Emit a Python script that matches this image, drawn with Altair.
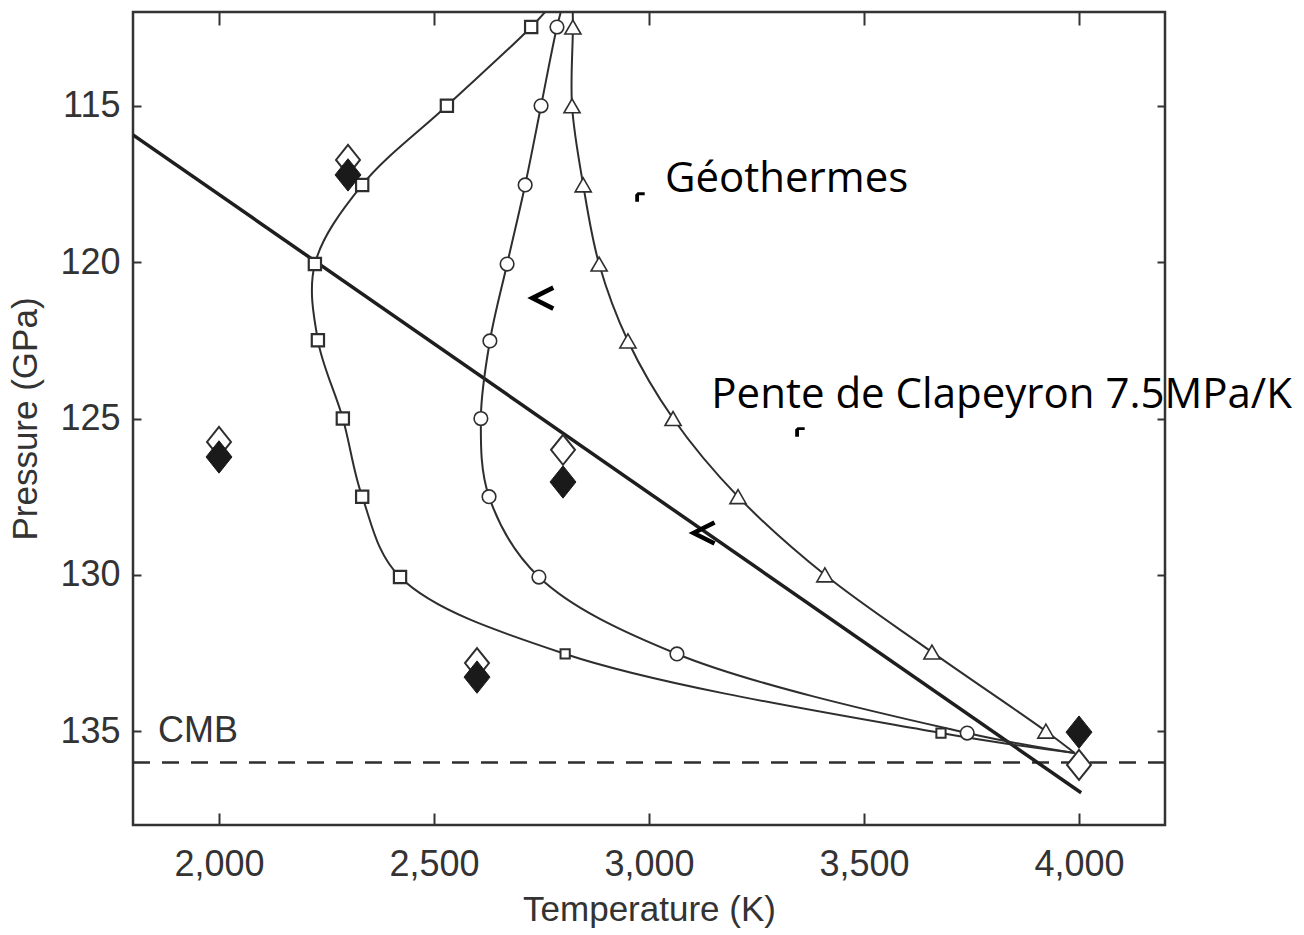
import altair as alt
import pandas as pd

# ---- data ----
# geotherm marked with squares (first point: where the curve leaves the frame, last: convergence)
sq_T = [2790, 2726, 2530, 2333, 2223, 2230, 2288, 2333, 2421, 2805, 3679, 3990]
sq_P = [111.5, 112.48, 115.0, 117.53, 120.06, 122.5, 125.0, 127.5, 130.07, 132.53, 135.06, 135.7]
# geotherm marked with circles
ci_T = [2805, 2786, 2749, 2712, 2670, 2630, 2609, 2628, 2744, 3065, 3740, 3990]
ci_P = [111.5, 112.48, 115.0, 117.53, 120.06, 122.52, 125.0, 127.5, 130.07, 132.53, 135.06, 135.7]
# geotherm marked with triangles
tr_T = [2822, 2823, 2821, 2847, 2884, 2951, 3056, 3207, 3409, 3658, 3923, 3990]
tr_P = [111.5, 112.48, 115.0, 117.53, 120.06, 122.52, 125.0, 127.5, 130.0, 132.47, 135.0, 135.7]

# diamonds (open and filled)
open_T = [2300, 2000, 2800, 2600, 4000]
open_P = [116.73, 125.75, 126.0, 132.82, 136.08]
fill_T = [2300, 2000, 2800, 2600, 4000]
fill_P = [117.21, 126.23, 127.03, 133.27, 135.03]

# Clapeyron slope line
clap_T = [1800, 4005]
clap_P = [115.93, 136.97]

# core-mantle boundary
cmb_P = [136.0]
cmb_label = ["CMB"]
cmb_label_T = [1858]
cmb_label_P = [135.0]

# annotations
ann_text = ["Géothermes", "Pente de Clapeyron 7.5MPa/K"]
ann_T = [3037, 3145]
ann_P = [117.76, 124.66]
chev_T = [2753, 3128]
chev_P = [121.15, 128.66]
frag_T = [2979, 3351]
frag_P = [117.92, 125.43]

x_ticks = [2000, 2500, 3000, 3500, 4000]
y_ticks = [115, 120, 125, 130, 135]

# ---- tables ----
rows = []
for name, T, P in [("sq", sq_T, sq_P), ("ci", ci_T, ci_P), ("tr", tr_T, tr_P)]:
    for i, (t, p) in enumerate(zip(T, P)):
        rows.append({"s": name, "i": i, "T": t, "P": p})
lines_df = pd.DataFrame(rows)

sq_big = pd.DataFrame({"T": sq_T[1:9], "P": sq_P[1:9]})
sq_small = pd.DataFrame({"T": sq_T[9:11], "P": sq_P[9:11]})
ci_df = pd.DataFrame({"T": ci_T[1:11], "P": ci_P[1:11]})
tr_df = pd.DataFrame({"T": tr_T[1:11], "P": tr_P[1:11]})
open_df = pd.DataFrame({"T": open_T, "P": open_P})
fill_df = pd.DataFrame({"T": fill_T, "P": fill_P})
clap_df = pd.DataFrame({"T": clap_T, "P": clap_P})
cmb_df = pd.DataFrame({"P": cmb_P})
cmb_lab_df = pd.DataFrame({"T": cmb_label_T, "P": cmb_label_P, "t": cmb_label})
ann_df = pd.DataFrame({"T": ann_T, "P": ann_P, "t": ann_text})
chev_df = pd.DataFrame({"T": chev_T, "P": chev_P})
frag_df = pd.DataFrame({"T": frag_T, "P": frag_P})

xs = alt.Scale(domain=[1800, 4200], nice=False, zero=False)
ys = alt.Scale(domain=[112, 138], reverse=True, nice=False, zero=False)

INK = "#2e2e2e"


def X(axis=None):
    return alt.X("T:Q", scale=xs, axis=axis)


def Y(axis=None):
    return alt.Y("P:Q", scale=ys, axis=axis)


x_bottom = alt.Axis(orient="bottom", values=x_ticks, format=",.0f", offset=-12, tickSize=12,
                    labelPadding=22, title="Temperature (K)", titlePadding=10)
y_left = alt.Axis(orient="left", values=y_ticks, format=".0f", offset=-8, tickSize=8,
                  labelPadding=13, title="Pressure (GPa)", titlePadding=16)
x_top = alt.Axis(orient="top", values=x_ticks, offset=-13, tickSize=13, labels=False, title=None)
y_right = alt.Axis(orient="right", values=y_ticks, offset=-8, tickSize=8, labels=False, title=None)

cmb = alt.Chart(cmb_df).mark_rule(color=INK, strokeWidth=2.5, strokeDash=[17, 12]).encode(
    y=Y()
)

clap = alt.Chart(clap_df).mark_line(color="#1e1e1e", strokeWidth=3.5, clip=True).encode(
    x=X(x_bottom), y=Y(y_left)
)

geo = alt.Chart(lines_df).mark_line(interpolate="catmull-rom", clip=True, color=INK,
                                    strokeWidth=2).encode(
    x=X(x_top), y=Y(y_right), detail="s:N", order="i:Q"
)

pt = dict(filled=True, fill="white", stroke=INK, opacity=1)
sqb = alt.Chart(sq_big).mark_point(shape="square", size=150, strokeWidth=2.2, **pt).encode(x=X(), y=Y())
sqs = alt.Chart(sq_small).mark_point(shape="square", size=85, strokeWidth=2, **pt).encode(x=X(), y=Y())
cir = alt.Chart(ci_df).mark_point(shape="circle", size=185, strokeWidth=1.6, **pt).encode(x=X(), y=Y())
tri = alt.Chart(tr_df).mark_point(shape="triangle-up", size=260, strokeWidth=1.6, **pt).encode(x=X(), y=Y())

DIAMOND = "M0,-1L0.8,0L0,1L-0.8,0Z"
dopen = alt.Chart(open_df).mark_point(shape=DIAMOND, size=900, strokeWidth=2, **pt).encode(x=X(), y=Y())
dfill = alt.Chart(fill_df).mark_point(shape=DIAMOND, size=1050, filled=True, fill="#1a1a1a",
                                      stroke="#1a1a1a", strokeWidth=1, opacity=1).encode(x=X(), y=Y())

cmb_txt = alt.Chart(cmb_lab_df).mark_text(font="Liberation Sans", fontSize=36, color="#333",
                                          align="left", baseline="middle").encode(
    x=X(), y=Y(), text="t:N"
)

ann = alt.Chart(ann_df).mark_text(font="Open Sans", fontSize=42, color="black",
                                  align="left", baseline="alphabetic").encode(
    x=X(), y=Y(), text="t:N"
)

chev = alt.Chart(chev_df).mark_point(shape="M1,-1L-1,0L1,1", size=441, filled=False,
                                     stroke="black", strokeWidth=4.5, opacity=1).encode(x=X(), y=Y())

frag = alt.Chart(frag_df).mark_point(shape="M-1,1L-1,-0.5L-0.5,-1L1,-1L1,-0.4L-0.2,-0.4L-0.2,1Z",
                                     size=90, filled=True, fill="black", opacity=1).encode(x=X(), y=Y())

chart = alt.layer(
    cmb, clap, geo, sqb, sqs, cir, tri, dopen, dfill, cmb_txt, ann, chev, frag
).resolve_axis(
    x="independent", y="independent"
).properties(
    width=1032, height=813,
    padding={"left": 133, "top": 12, "right": 139, "bottom": 110},
    autosize="none",
    background="white",
).configure_axis(
    labelFont="Liberation Sans", labelFontSize=36, labelColor="#333",
    titleFont="Liberation Sans", titleFontSize=35, titleColor="#333", titleFontWeight="normal",
    tickColor="#333", tickWidth=2, domain=False, grid=False,
).configure_view(
    stroke="#333", strokeWidth=2.5
)

chart.save("out.html", embed_options={"renderer": "svg", "actions": False})
